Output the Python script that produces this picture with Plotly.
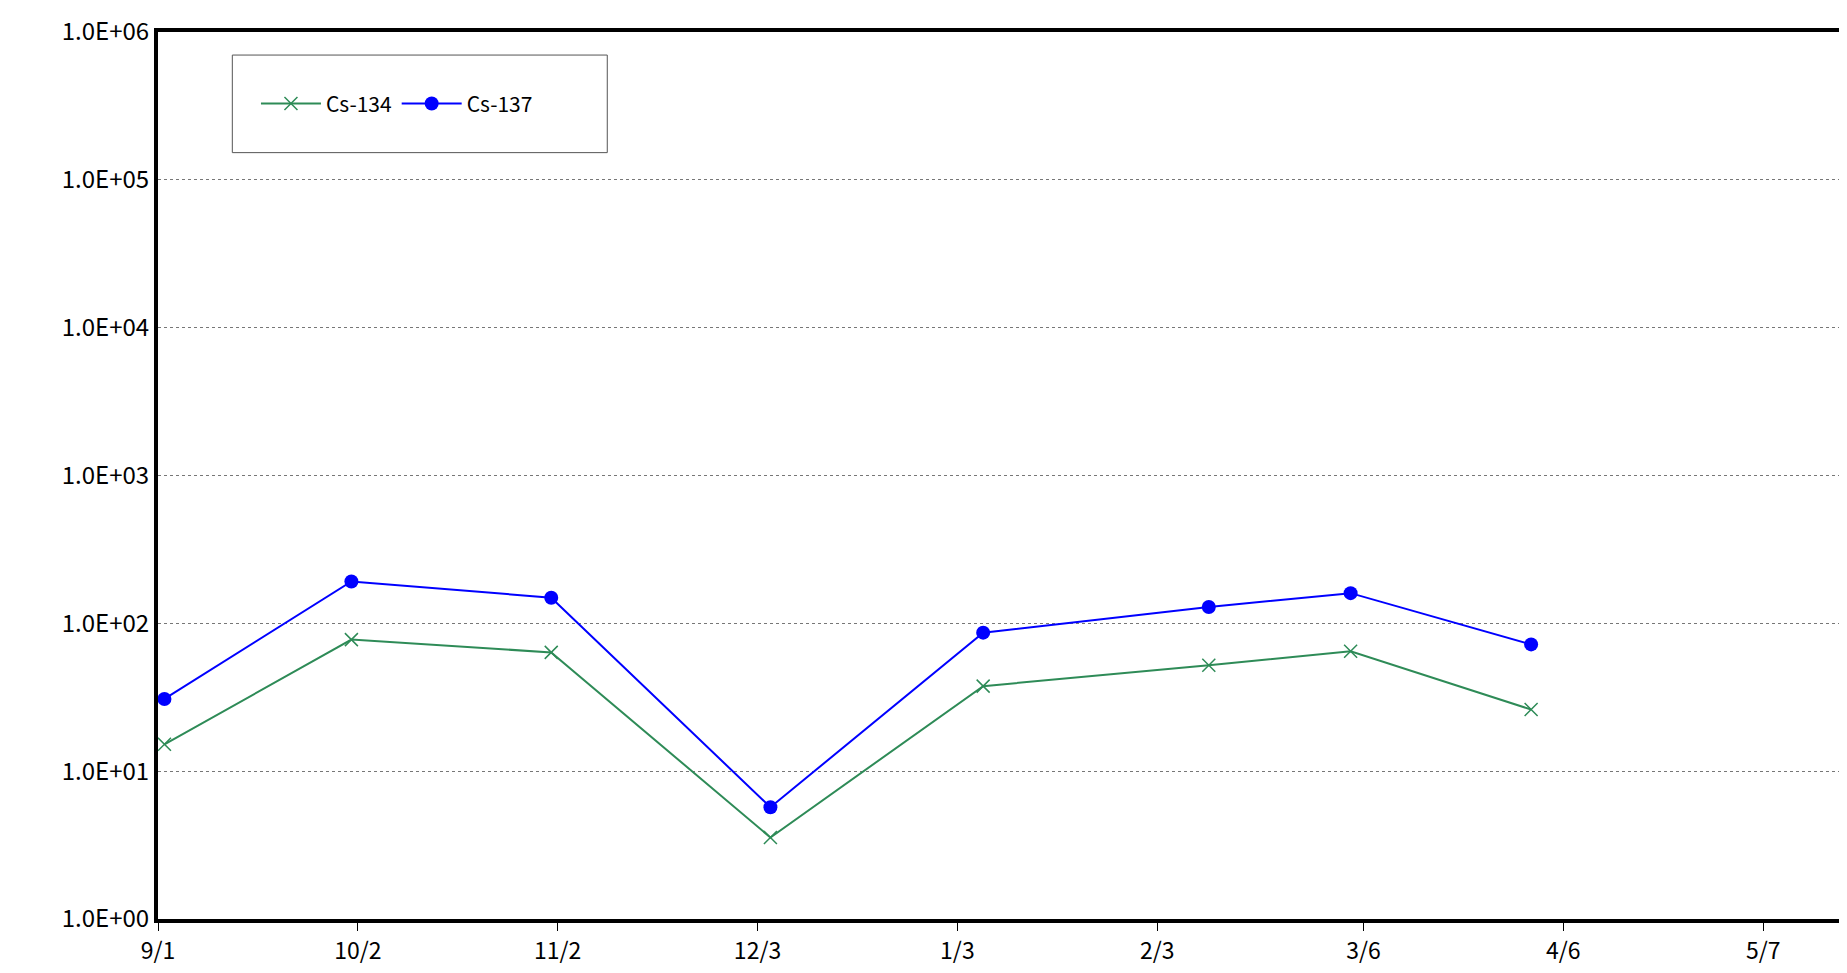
import plotly.graph_objects as go

dates = ["2011-09-02", "2011-10-01", "2011-11-01", "2011-12-05", "2012-01-07",
         "2012-02-11", "2012-03-04", "2012-04-01"]
cs134 = [15.2, 77.6, 63.6, 3.56, 37.6, 52, 64.7, 26.1]
cs137 = [30.8, 192, 149, 5.7, 86.5, 129, 160, 72]

x_ticks = ["2011-09-01", "2011-10-02", "2011-11-02", "2011-12-03", "2012-01-03",
           "2012-02-03", "2012-03-06", "2012-04-06", "2012-05-07"]
x_labels = ["9/1", "10/2", "11/2", "12/3", "1/3", "2/3", "3/6", "4/6", "5/7"]
y_ticks = [1, 10, 100, 1000, 10000, 100000, 1000000]
y_labels = ["1.0E+00", "1.0E+01", "1.0E+02", "1.0E+03", "1.0E+04", "1.0E+05", "1.0E+06"]

fig = go.Figure()
fig.add_trace(go.Scatter(x=dates, y=cs134, name="Cs-134", mode="lines+markers",
                         line=dict(color="#2e8b57", width=2),
                         marker=dict(symbol="x-thin", size=13, line=dict(color="#2e8b57", width=1.5))))
fig.add_trace(go.Scatter(x=dates, y=cs137, name="Cs-137", mode="lines+markers",
                         line=dict(color="#0000ff", width=2),
                         marker=dict(symbol="circle", size=14, color="#0000ff")))

# legend frame
fig.add_shape(type="rect", xref="paper", yref="paper", x0=0.044, x1=0.266, y0=0.864, y1=0.974,
              line=dict(color="#555", width=1), fillcolor="white", layer="below")

fig.update_layout(
    width=1847, height=973,
    plot_bgcolor="white", paper_bgcolor="white",
    margin=dict(l=150, r=4, t=20, b=62),
    font=dict(family="Noto Sans CJK JP, Liberation Sans", size=24, color="black"),
    legend=dict(orientation="h", x=0.058, y=0.919, xanchor="left", yanchor="middle",
                borderwidth=0, bgcolor="rgba(0,0,0,0)",
                font=dict(size=21), itemwidth=60),
)
fig.update_xaxes(type="date", range=["2011-09-01", "2012-05-20"],
                 tickvals=x_ticks, ticktext=x_labels, ticks="outside", ticklen=8,
                 tickcolor="black", showgrid=False, showline=True, linecolor="black",
                 linewidth=4, mirror=True, tickfont=dict(size=23))
fig.update_yaxes(type="log", range=[0, 6], tickvals=y_ticks, ticktext=y_labels,
                 showgrid=True, gridcolor="#777", griddash="dot", gridwidth=1,
                 showline=True, linecolor="black", linewidth=4, mirror=True,
                 ticks="", zeroline=False)

fig.write_html("out.html")
